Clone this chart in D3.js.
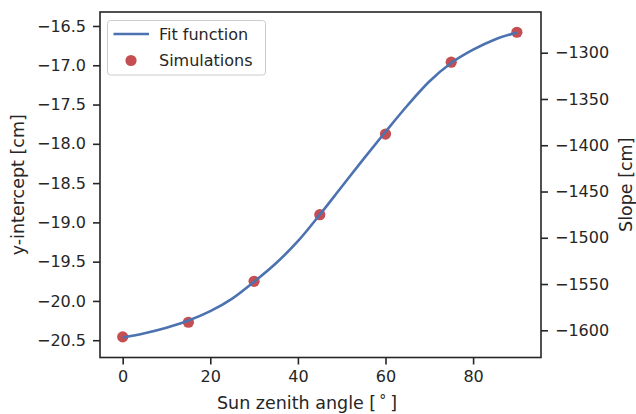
<!DOCTYPE html>
<html>
<head>
<meta charset="utf-8">
<script src="https://cdn.jsdelivr.net/npm/d3@7"></script>
<style>
  body { margin: 0; background: #fff; }
  svg text { font-family: "DejaVu Sans", sans-serif; fill: #262626; }
  .axis line { stroke: #262626; stroke-width: 1.6; }
  .axis text { font-size: 16px; }
</style>
</head>
<body>
<svg id="chart" width="636" height="414"></svg>
<script>
// simulations (sun zenith angle -> y-intercept)
var simAngles = [0, 15, 30, 45, 60, 75, 90];
var simIntercepts = [-20.457, -20.271, -19.750, -18.902, -17.876, -16.961, -16.580];

// fit function
var fitAngles = [0, 5, 10, 15, 20, 25, 30, 35, 40, 45, 50, 55, 60, 65, 70, 75, 80, 85, 90];
var fitValues = [-20.465, -20.410, -20.340, -20.250, -20.130, -19.970, -19.755, -19.520, -19.240,
                 -18.902, -18.547, -18.192, -17.847, -17.512, -17.207, -16.972, -16.802, -16.672, -16.582];

var xTicks = [0, 20, 40, 60, 80];
var yTicks = [-20.5, -20.0, -19.5, -19.0, -18.5, -18.0, -17.5, -17.0, -16.5];
var slopeTicks = [-1600, -1550, -1500, -1450, -1400, -1350, -1300];

var svg = d3.select("#chart");

var margin = { left: 100, top: 12, right: 541, bottom: 357.5 };

var x = d3.scaleLinear()
    .domain([-5.18, 95.5])
    .range([margin.left, margin.right]);

var y = d3.scaleLinear()
    .domain([-20.72, -16.322])
    .range([margin.bottom, margin.top]);

var y2 = d3.scaleLinear()
    .domain([-1629.4, -1256])
    .range([margin.bottom, margin.top]);

// axes
svg.append("g")
    .attr("class", "axis")
    .attr("transform", `translate(0,${margin.bottom})`)
    .call(d3.axisBottom(x).tickValues(xTicks).tickSize(7).tickPadding(6).tickSizeOuter(0))
    .call(g => g.select(".domain").remove());

svg.append("g")
    .attr("class", "axis")
    .attr("transform", `translate(${margin.left},0)`)
    .call(d3.axisLeft(y).tickValues(yTicks).tickFormat(d3.format(".1f")).tickSize(7).tickPadding(7).tickSizeOuter(0))
    .call(g => g.select(".domain").remove());

svg.append("g")
    .attr("class", "axis")
    .attr("transform", `translate(${margin.right},0)`)
    .call(d3.axisRight(y2).tickValues(slopeTicks).tickFormat(d3.format("d")).tickSize(7).tickPadding(7).tickSizeOuter(0))
    .call(g => g.select(".domain").remove());

// frame
svg.append("rect")
    .attr("x", margin.left)
    .attr("y", margin.top)
    .attr("width", margin.right - margin.left)
    .attr("height", margin.bottom - margin.top)
    .attr("fill", "none")
    .attr("stroke", "#262626")
    .attr("stroke-width", 1.6);

// simulations under the line
svg.append("g")
    .selectAll("circle")
    .data(simAngles)
    .enter()
    .append("circle")
    .attr("cx", d => x(d))
    .attr("cy", (d, i) => y(simIntercepts[i]))
    .attr("r", 5.6)
    .attr("fill", "#c44e52");

var line = d3.line()
    .x(d => x(d[0]))
    .y(d => y(d[1]))
    .curve(d3.curveMonotoneX);

svg.append("path")
    .datum(fitAngles.map((a, i) => [a, fitValues[i]]))
    .attr("d", line)
    .attr("fill", "none")
    .attr("stroke", "#4c72b0")
    .attr("stroke-width", 2.6);

// axis labels
svg.append("text")
    .attr("x", 307)
    .attr("y", 409)
    .attr("text-anchor", "middle")
    .style("font-size", "17.5px")
    .text("Sun zenith angle [")
    .call(t => t.append("tspan").attr("dx", 3).attr("dy", -4).style("font-size", "14px").text("°"))
    .call(t => t.append("tspan").attr("dx", 4).attr("dy", 4).text("]"));

svg.append("text")
    .attr("transform", `translate(24,${(margin.top + margin.bottom) / 2}) rotate(-90)`)
    .attr("text-anchor", "middle")
    .style("font-size", "17.5px")
    .text("y-intercept [cm]");

svg.append("text")
    .attr("transform", `translate(632,${(margin.top + margin.bottom) / 2}) rotate(-90)`)
    .attr("text-anchor", "middle")
    .style("font-size", "17.5px")
    .text("Slope [cm]");

// legend
var legend = svg.append("g");

legend.append("rect")
    .attr("x", 107.5)
    .attr("y", 20.5)
    .attr("width", 158)
    .attr("height", 54.5)
    .attr("rx", 3)
    .attr("fill", "#fff")
    .attr("fill-opacity", 0.8)
    .attr("stroke", "#cccccc")
    .attr("stroke-width", 1);

legend.append("line")
    .attr("x1", 113.5)
    .attr("x2", 149)
    .attr("y1", 34)
    .attr("y2", 34)
    .attr("stroke", "#4c72b0")
    .attr("stroke-width", 2.6);

legend.append("circle")
    .attr("cx", 131)
    .attr("cy", 60.5)
    .attr("r", 5.6)
    .attr("fill", "#c44e52");

legend.append("text")
    .attr("x", 159)
    .attr("y", 39.5)
    .style("font-size", "16px")
    .text("Fit function");

legend.append("text")
    .attr("x", 159)
    .attr("y", 66)
    .style("font-size", "16px")
    .text("Simulations");
</script>
</body>
</html>
